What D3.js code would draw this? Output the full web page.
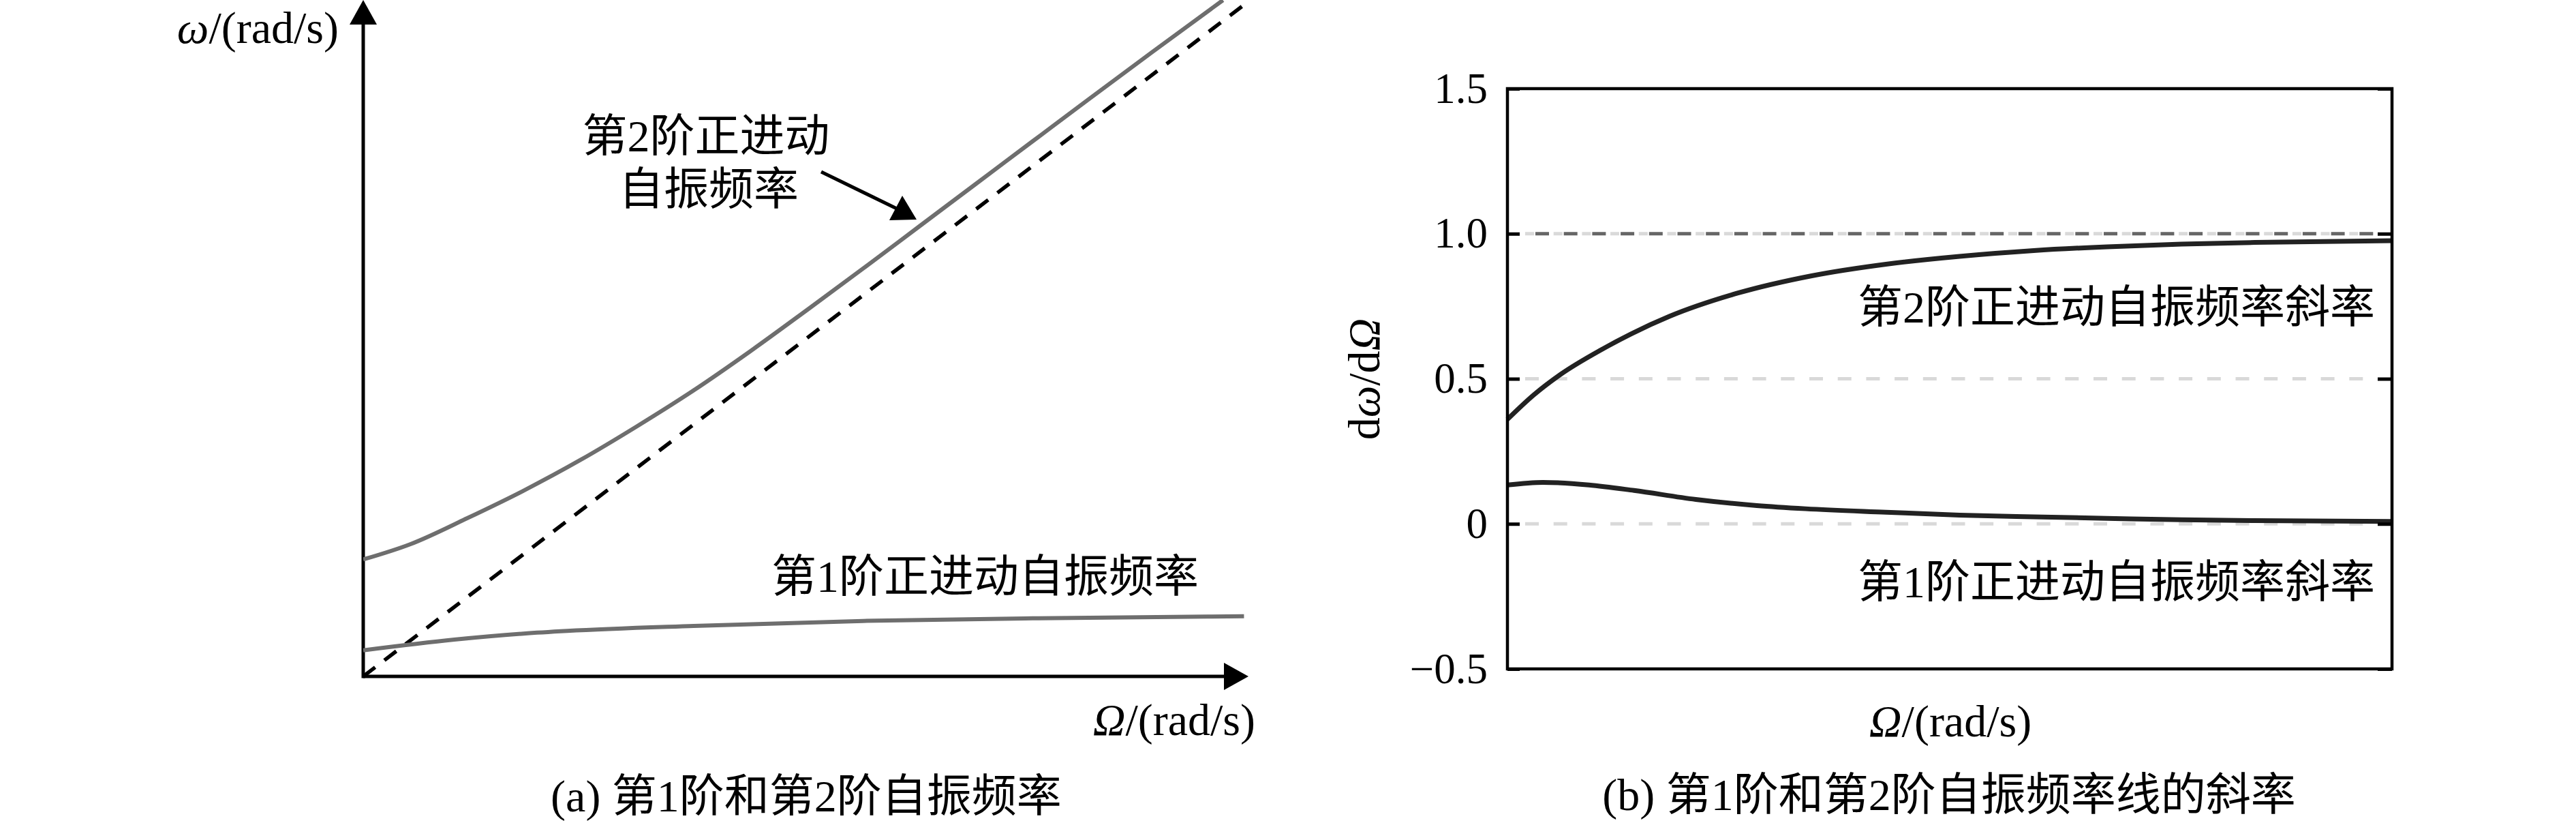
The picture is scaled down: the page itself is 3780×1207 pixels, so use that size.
<!DOCTYPE html>
<meta charset="utf-8">
<style>
body{margin:0;background:#fff}
text{font-family:"Liberation Serif","Noto Sans CJK SC",serif;fill:#000}
</style>
<svg id="svg"></svg>
<script src="https://d3js.org/d3.v7.min.js"></script>
<script>

// (a) natural frequencies, Omega vs omega (arbitrary units, no ticks)
var omegaRange = [0, 10]
var mode2Freq = [[0,1.75],[0.54,1.98],[1.19,2.37],[1.83,2.78],[2.48,3.24],[3.12,3.74],[3.77,4.28],
  [4.41,4.86],[5.06,5.48],[5.70,6.10],[6.35,6.74],[6.99,7.37],[7.64,8.01],[8.28,8.64],[9.0,9.34],[9.81,10.12]]
var mode1Freq = [[0,0.39],[1.04,0.55],[1.83,0.64],[2.33,0.68],[3.77,0.755],[5.70,0.83],
  [7.64,0.87],[10.05,0.90]]
var syncLine = [[0,0],[10.15,10.15]]

// (b) slopes d omega / d Omega
var slopeTicks = [-0.5, 0, 0.5, 1.0, 1.5]
var gridLevels = [0, 0.5, 1.0]
var mode2Slope = [[0,0.36],[0.3,0.445],[0.6,0.515],[1.06,0.60],[1.4,0.655],[1.83,0.715],[2.6,0.795],
  [3.44,0.855],[4.28,0.895],[5.11,0.922],[5.95,0.942],[6.78,0.955],[7.62,0.964],[8.45,0.970],[10,0.976]]
var mode1Slope = [[0,0.134],[0.4,0.143],[0.92,0.134],[1.43,0.115],[2.13,0.084],[2.82,0.063],
  [3.37,0.052],[4.28,0.04],[5.11,0.03],[5.95,0.024],[6.78,0.019],[7.62,0.014],[8.45,0.011],[10,0.008]]

var width = 3780, height = 1207
var svg = d3.select('#svg').attr('width', width).attr('height', height)
svg.append('rect').attr('width', width).attr('height', height).attr('fill', '#fff')

//////////// panel (a)
var xL = d3.scaleLinear().domain(omegaRange).range([533, 1819])
var yL = d3.scaleLinear().domain(omegaRange).range([992, 12])
var lineL = d3.line().x(d => xL(d[0])).y(d => yL(d[1])).curve(d3.curveMonotoneX)

var a = svg.append('g')
var x0 = xL(0), y0 = yL(0), xTip = 1832, yTip = 0

// axes with arrowheads
a.append('line').attr('x1', x0).attr('y1', y0).attr('x2', xTip - 30).attr('y2', y0)
  .attr('stroke', '#000').attr('stroke-width', 5)
a.append('line').attr('x1', x0).attr('y1', y0 + 2.5).attr('x2', x0).attr('y2', yTip + 30)
  .attr('stroke', '#000').attr('stroke-width', 5)
a.append('path').attr('d', `M${xTip},${y0}L${xTip-36},${y0-20}L${xTip-36},${y0+20}Z`).attr('fill', '#000')
a.append('path').attr('d', `M${x0},${yTip}L${x0-20},${yTip+36}L${x0+20},${yTip+36}Z`).attr('fill', '#000')

a.append('defs').append('clipPath').attr('id', 'clipA')
  .append('rect').attr('x', x0).attr('y', 0).attr('width', xTip - x0).attr('height', y0)

a.append('path').datum(syncLine).attr('d', lineL).attr('clip-path', 'url(#clipA)')
  .attr('fill', 'none').attr('stroke', '#000').attr('stroke-width', 5.5).attr('stroke-dasharray', '22,17')
a.append('path').datum(mode2Freq).attr('d', lineL).attr('clip-path', 'url(#clipA)')
  .attr('fill', 'none').attr('stroke', '#6e6e6e').attr('stroke-width', 6)
a.append('path').datum(mode1Freq).attr('d', lineL)
  .attr('fill', 'none').attr('stroke', '#6e6e6e').attr('stroke-width', 6)

// annotation arrow
a.append('line').attr('x1', 1205).attr('y1', 252).attr('x2', 1318).attr('y2', 307)
  .attr('stroke', '#000').attr('stroke-width', 5)
a.append('path').attr('d', 'M1345,322L1305,323L1324,287Z').attr('fill', '#000')

var tA = a.append('text').attr('x', 497).attr('y', 63).attr('font-size', 66).attr('text-anchor', 'end')
tA.append('tspan').attr('font-style', 'italic').text('ω')
tA.append('tspan').text('/(rad/s)')
var tB = a.append('text').attr('x', 1842).attr('y', 1078).attr('font-size', 66).attr('text-anchor', 'end')
tB.append('tspan').attr('font-style', 'italic').text('Ω')
tB.append('tspan').text('/(rad/s)')

a.append('text').attr('x', 1036).attr('y', 222).attr('font-size', 66).attr('text-anchor', 'middle').text('第2阶正进动')
a.append('text').attr('x', 1040).attr('y', 300).attr('font-size', 66).attr('text-anchor', 'middle').text('自振频率')
a.append('text').attr('x', 1132).attr('y', 868).attr('font-size', 66).text('第1阶正进动自振频率')
a.append('text').attr('x', 1183).attr('y', 1190).attr('font-size', 66).attr('text-anchor', 'middle')
  .text('(a) 第1阶和第2阶自振频率')

//////////// panel (b)
var xR = d3.scaleLinear().domain([0, 10]).range([2212, 3510])
var yR = d3.scaleLinear().domain([-0.5, 1.5]).range([981, 130])
var lineR = d3.line().x(d => xR(d[0])).y(d => yR(d[1])).curve(d3.curveMonotoneX)

var b = svg.append('g')

b.selectAll('.grid').data(gridLevels).enter().append('line')
  .attr('x1', xR(0) + 26).attr('x2', xR(10) - 22)
  .attr('y1', d => yR(d)).attr('y2', d => yR(d))
  .attr('stroke', '#d9d9d9').attr('stroke-width', 5)
  .attr('stroke-dasharray', d => d === 1 ? '13,28.7' : '20,21.7')
b.append('line').attr('x1', xR(0) + 41).attr('x2', xR(10) - 22)
  .attr('y1', yR(1)).attr('y2', yR(1))
  .attr('stroke', '#666').attr('stroke-width', 5).attr('stroke-dasharray', '20,21.7')

b.append('path').datum(mode2Slope).attr('d', lineR)
  .attr('fill', 'none').attr('stroke', '#222').attr('stroke-width', 7)
b.append('path').datum(mode1Slope).attr('d', lineR)
  .attr('fill', 'none').attr('stroke', '#222').attr('stroke-width', 7)

var fmt = d => d === 0 ? '0' : d < 0 ? '−' + Math.abs(d).toFixed(1) : d.toFixed(1)
var axL = b.append('g').attr('transform', `translate(${xR(0)},0)`)
  .call(d3.axisLeft(yR).tickValues(slopeTicks).tickSize(-18).tickPadding(29).tickFormat(fmt))
var axR = b.append('g').attr('transform', `translate(${xR(10)},0)`)
  .call(d3.axisRight(yR).tickValues(slopeTicks).tickSize(-21).tickFormat(''))
b.selectAll('.domain').remove()
b.selectAll('.tick line').attr('stroke', '#000').attr('stroke-width', 5)
axL.selectAll('text').attr('font-size', 63).attr('font-family', '"Liberation Serif",serif').attr('fill', '#000')

b.append('rect').attr('x', xR(0)).attr('y', yR(1.5))
  .attr('width', xR(10) - xR(0)).attr('height', yR(-0.5) - yR(1.5))
  .attr('fill', 'none').attr('stroke', '#000').attr('stroke-width', 4.5)

var yl = b.append('text').attr('transform', 'translate(2024,556) rotate(-90)')
  .attr('font-size', 66).attr('text-anchor', 'middle')
yl.append('tspan').text('d')
yl.append('tspan').attr('font-style', 'italic').text('ω')
yl.append('tspan').text('/d')
yl.append('tspan').attr('font-style', 'italic').text('Ω')

var xl = b.append('text').attr('x', 2862).attr('y', 1080).attr('font-size', 66).attr('text-anchor', 'middle')
xl.append('tspan').attr('font-style', 'italic').text('Ω')
xl.append('tspan').text('/(rad/s)')

b.append('text').attr('x', 3485).attr('y', 473).attr('font-size', 66).attr('text-anchor', 'end')
  .text('第2阶正进动自振频率斜率')
b.append('text').attr('x', 3485).attr('y', 876).attr('font-size', 66).attr('text-anchor', 'end')
  .text('第1阶正进动自振频率斜率')
b.append('text').attr('x', 2860).attr('y', 1188).attr('font-size', 66).attr('text-anchor', 'middle')
  .text('(b) 第1阶和第2阶自振频率线的斜率')

</script>
